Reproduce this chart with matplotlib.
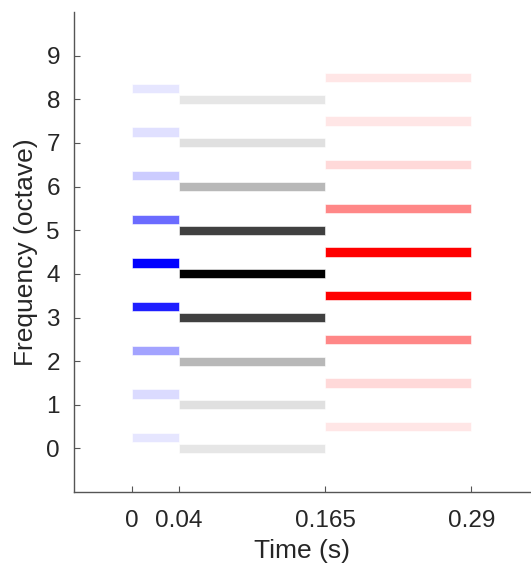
import matplotlib
matplotlib.use('Agg')
import matplotlib.pyplot as plt
import numpy as np

plt.rcParams['font.family'] = ['Liberation Sans', 'DejaVu Sans']

# segments: (start, end) in seconds
seg_times = [(0.0, 0.04), (0.04, 0.165), (0.165, 0.29)]
# octave positions of each component
blue_freqs = [0.25, 1.25, 2.25, 3.25, 4.25, 5.25, 6.25, 7.25, 8.25]
gray_freqs = [0, 1, 2, 3, 4, 5, 6, 7, 8]
red_freqs = [0.5, 1.5, 2.5, 3.5, 4.5, 5.5, 6.5, 7.5, 8.5]
# relative amplitudes (colour intensity)
blue_amps = [0.10, 0.14, 0.36, 0.88, 1.0, 0.58, 0.20, 0.12, 0.10]
gray_amps = [0.10, 0.12, 0.28, 0.75, 1.0, 0.75, 0.28, 0.12, 0.10]
red_amps = [0.10, 0.15, 0.47, 1.0, 1.0, 0.47, 0.15, 0.10, 0.10]

xticks = [0, 0.04, 0.165, 0.29]
yticks = list(range(10))


def tint(base, a):
    base = np.array(base, dtype=float)
    return tuple(1 - a * (1 - base))


fig = plt.figure(figsize=(5.31, 5.67), dpi=100)
ax = fig.add_axes([0.139, 0.132, 0.859, 0.847])

groups = [(blue_freqs, blue_amps, (0, 0, 1)),
          (gray_freqs, gray_amps, (0, 0, 0)),
          (red_freqs, red_amps, (1, 0, 0))]
for (t0, t1), (freqs, amps, base) in zip(seg_times, groups):
    for f, a in zip(freqs, amps):
        ax.barh(f, t1 - t0, left=t0, height=0.21, color=tint(base, a),
                edgecolor='white', linewidth=0.4)

ax.set_xlim(-0.05, 0.34)
ax.set_ylim(-1, 10)
ax.set_xticks(xticks)
ax.set_xticklabels(['0', '0.04', '0.165', '0.29'])
ax.set_yticks(yticks)

for s in ['top', 'right']:
    ax.spines[s].set_visible(False)
for s in ['left', 'bottom']:
    ax.spines[s].set_color('#555555')
    ax.spines[s].set_linewidth(1.0)
ax.tick_params(direction='in', length=4, width=0.8, color='#555555',
               labelsize=17.5, labelcolor='#262626')
ax.tick_params(axis='x', pad=13)
ax.tick_params(axis='y', pad=10)

ax.set_xlabel('Time (s)', fontsize=19, color='#262626', labelpad=5)
ax.set_ylabel('Frequency (octave)', fontsize=19, color='#262626', labelpad=6)

fig.savefig('out.png', dpi=100)
